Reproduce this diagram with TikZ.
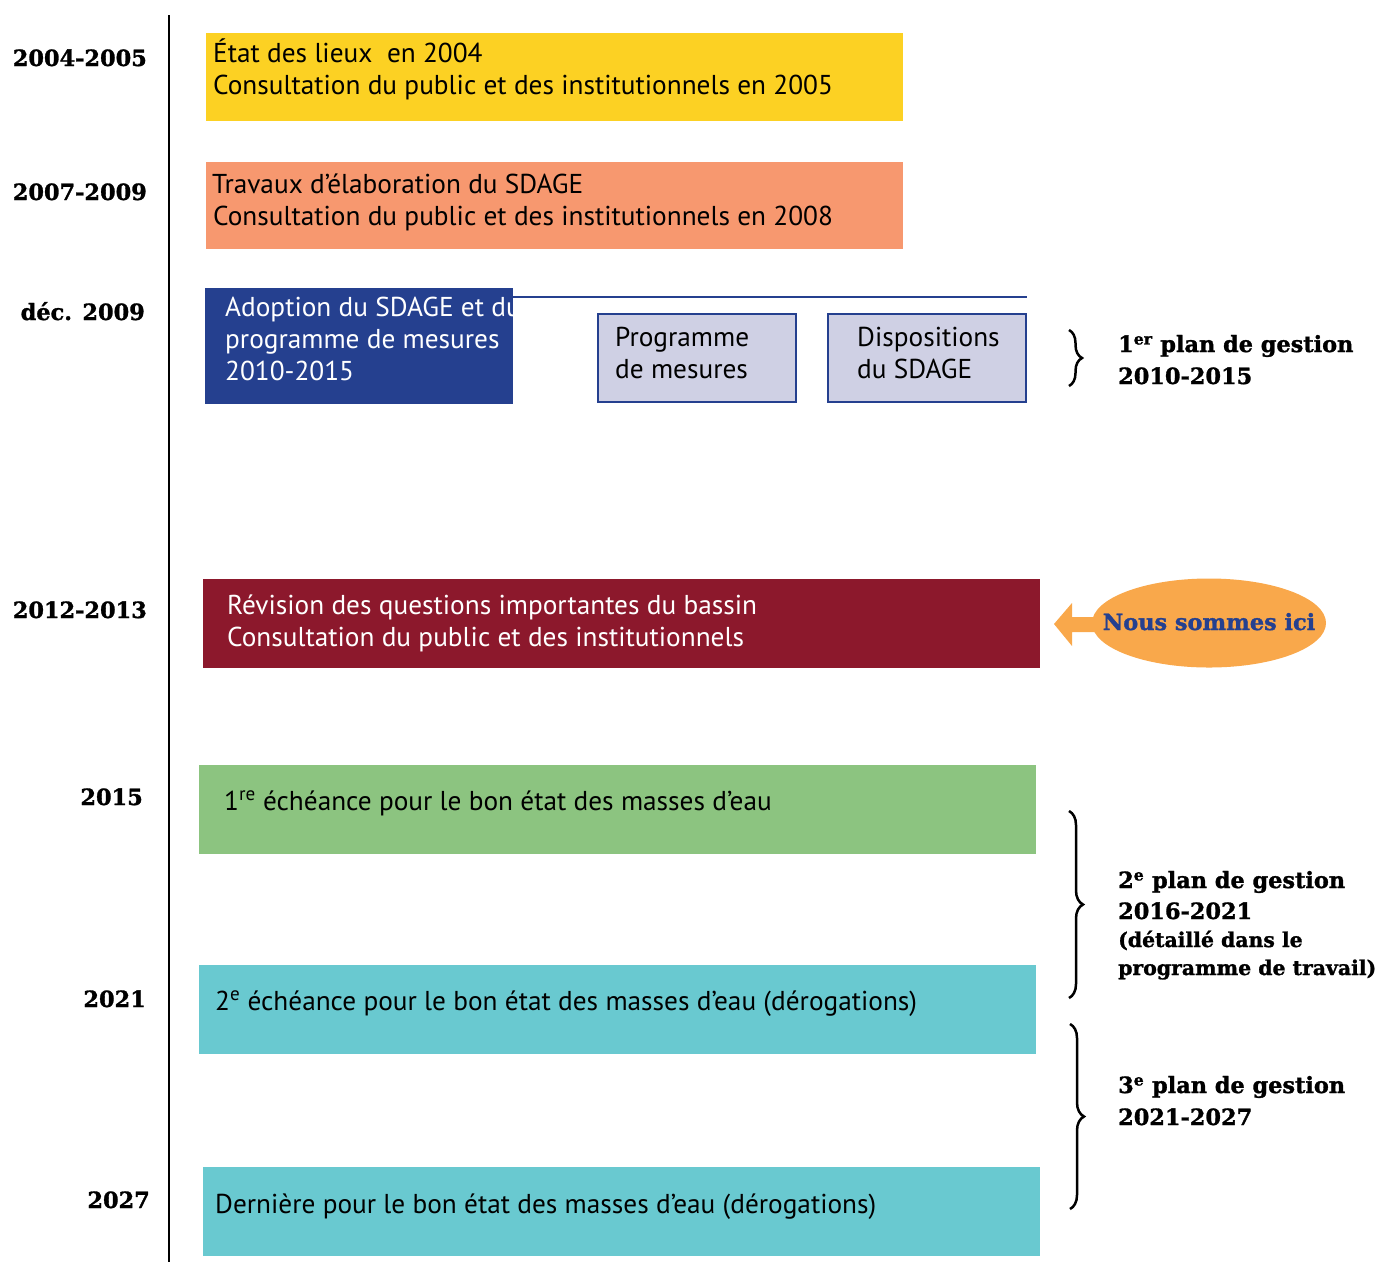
\documentclass[tikz,border=0pt]{standalone}
\usepackage{fontspec}
\setmainfont{PT Sans}
\newfontfamily\labfont{DejaVu Serif}[BoldFeatures={FakeBold=1.3}]
\usetikzlibrary{decorations.pathreplacing,shapes.geometric}
\definecolor{cYellow}{HTML}{FCD123}
\definecolor{cOrange}{HTML}{F7986F}
\definecolor{cBlue}{HTML}{25408F}
\definecolor{cLav}{HTML}{CFD0E4}
\definecolor{cRed}{HTML}{8C182C}
\definecolor{cGreen}{HTML}{8CC480}
\definecolor{cCyan}{HTML}{69C9D0}
\definecolor{cEll}{HTML}{F9A84B}
\begin{document}
\begin{tikzpicture}[x=1pt,y=-1pt,
  box/.style={inner sep=0pt, outer sep=0pt, anchor=north west},
  txt/.style={anchor=base west, inner sep=0pt, font=\fontsize{27.3}{30}\selectfont},
  wtxt/.style={txt, text=white},
  yr/.style={anchor=base east, inner sep=0pt, font=\labfont\bfseries\fontsize{22.4}{26}\selectfont},
  plan/.style={anchor=base west, inner sep=0pt, font=\labfont\bfseries\fontsize{22.4}{26}\selectfont},
  plansmall/.style={plan, font=\labfont\bfseries\fontsize{20.4}{24}\selectfont},
  brc/.style={decorate, decoration={brace, amplitude=14pt, aspect=0.5}, line width=2.5pt}]
\useasboundingbox (0,0) rectangle (1378,1262);

% timeline
\coordinate (ltop) at (169,15);
\coordinate (lbot) at (169,1262);
\draw[line width=2.6pt] (ltop) -- (lbot);

% year labels
\node[yr] (y1) at (147,66) {2004-2005};
\node[yr] (y2) at (147,200) {2007-2009};
\node[yr] (y3) at (145,320) {déc. 2009};
\node[yr] (y4) at (147,618) {2012-2013};
\node[yr] (y5) at (143,805) {2015};
\node[yr] (y6) at (146,1007) {2021};
\node[yr] (y7) at (150,1208) {2027};

% yellow
\node[box, fill=cYellow, minimum width=697pt, minimum height=88pt] (b1) at (206,33) {};
\node[txt] (t1a) at (213,62) {État des lieux\ \ en 2004};
\node[txt] (t1b) at (213,94) {Consultation du public et des institutionnels en 2005};

% orange
\node[box, fill=cOrange, minimum width=697pt, minimum height=87pt] (b2) at (206,162) {};
\node[txt] (t2a) at (212,193) {Travaux d’élaboration du SDAGE};
\node[txt] (t2b) at (213,225) {Consultation du public et des institutionnels en 2008};

% blue
\node[box, fill=cBlue, minimum width=308pt, minimum height=116pt] (b3) at (205,288) {};
\begin{scope}
\clip (205,288) rectangle (513,404);
\node[wtxt] (t3a) at (225,316) {Adoption du SDAGE et du};
\end{scope}
\node[wtxt] (t3b) at (225,348) {programme de mesures};
\node[wtxt] (t3c) at (225,380) {2010-2015};
\coordinate (lend) at (1027,297);
\draw[cBlue, line width=2.4pt] (b3.north east |- lend) -- (lend);

% sub boxes
\node[box, fill=cLav, draw=cBlue, line width=2pt, minimum width=198pt, minimum height=88pt] (b4) at (598,314) {};
\node[txt] (t4a) at (615,346) {Programme};
\node[txt] (t4b) at (615,378) {de mesures};
\node[box, fill=cLav, draw=cBlue, line width=2pt, minimum width=198pt, minimum height=88pt] (b5) at (828,314) {};
\node[txt] (t5a) at (857,346) {Dispositions};
\node[txt] (t5b) at (857,378) {du SDAGE};

% brace 1
\coordinate (br1a) at (1069,330);
\coordinate (br1b) at (1069,386);
\draw[brc, decoration={amplitude=13pt}] (br1a) -- (br1b);
\node[plan] (p1a) at (1118,352) {1\textsuperscript{er} plan de gestion};
\node[plan] (p1b) at (1118,384) {2010-2015};

% red
\node[box, fill=cRed, minimum width=837pt, minimum height=89pt] (b6) at (203,579) {};
\node[wtxt] (t6a) at (227,614) {Révision des questions importantes du bassin};
\node[wtxt] (t6b) at (227,646) {Consultation du public et des institutionnels};

% ellipse + arrow
\fill[cEll] (1054,624) -- (1072,603) -- (1072,617) -- (1110,617) -- (1110,632) -- (1072,632) -- (1072,646) -- cycle;
\node[ellipse, fill=cEll, minimum width=234pt, minimum height=89pt, inner sep=0pt] (ell) at (1209,623) {};
\node[inner sep=0pt, text=cBlue, font=\labfont\bfseries\fontsize{22.4}{26}\selectfont, anchor=base] (nous) at (1209,630) {Nous sommes ici};

% green
\node[box, fill=cGreen, minimum width=837pt, minimum height=89pt] (b7) at (199,765) {};
\node[txt] (t7) at (224,810) {1\textsuperscript{re} échéance pour le bon état des masses d’eau};

% cyan 1
\node[box, fill=cCyan, minimum width=837pt, minimum height=89pt] (b8) at (199,965) {};
\node[txt] (t8) at (215,1010) {2\textsuperscript{e} échéance pour le bon état des masses d’eau (dérogations)};

% cyan 2
\node[box, fill=cCyan, minimum width=837pt, minimum height=89pt] (b9) at (203,1167) {};
\node[txt] (t9) at (215,1213) {Dernière pour le bon état des masses d’eau (dérogations)};

% brace 2
\coordinate (br2a) at (1069,811);
\coordinate (br2b) at (1069,998);
\draw[brc] (br2a) -- (br2b);
\node[plan] (p2a) at (1118,888) {2\textsuperscript{e} plan de gestion};
\node[plan] (p2b) at (1118,919) {2016-2021};
\node[plansmall] (p2c) at (1118,947) {(détaillé dans le};
\node[plansmall] (p2d) at (1118,975) {programme de travail)};

% brace 3
\coordinate (br3a) at (1070,1024);
\coordinate (br3b) at (1070,1209);
\draw[brc] (br3a) -- (br3b);
\node[plan] (p3a) at (1118,1093) {3\textsuperscript{e} plan de gestion};
\node[plan] (p3b) at (1118,1125) {2021-2027};
\end{tikzpicture}
\end{document}
